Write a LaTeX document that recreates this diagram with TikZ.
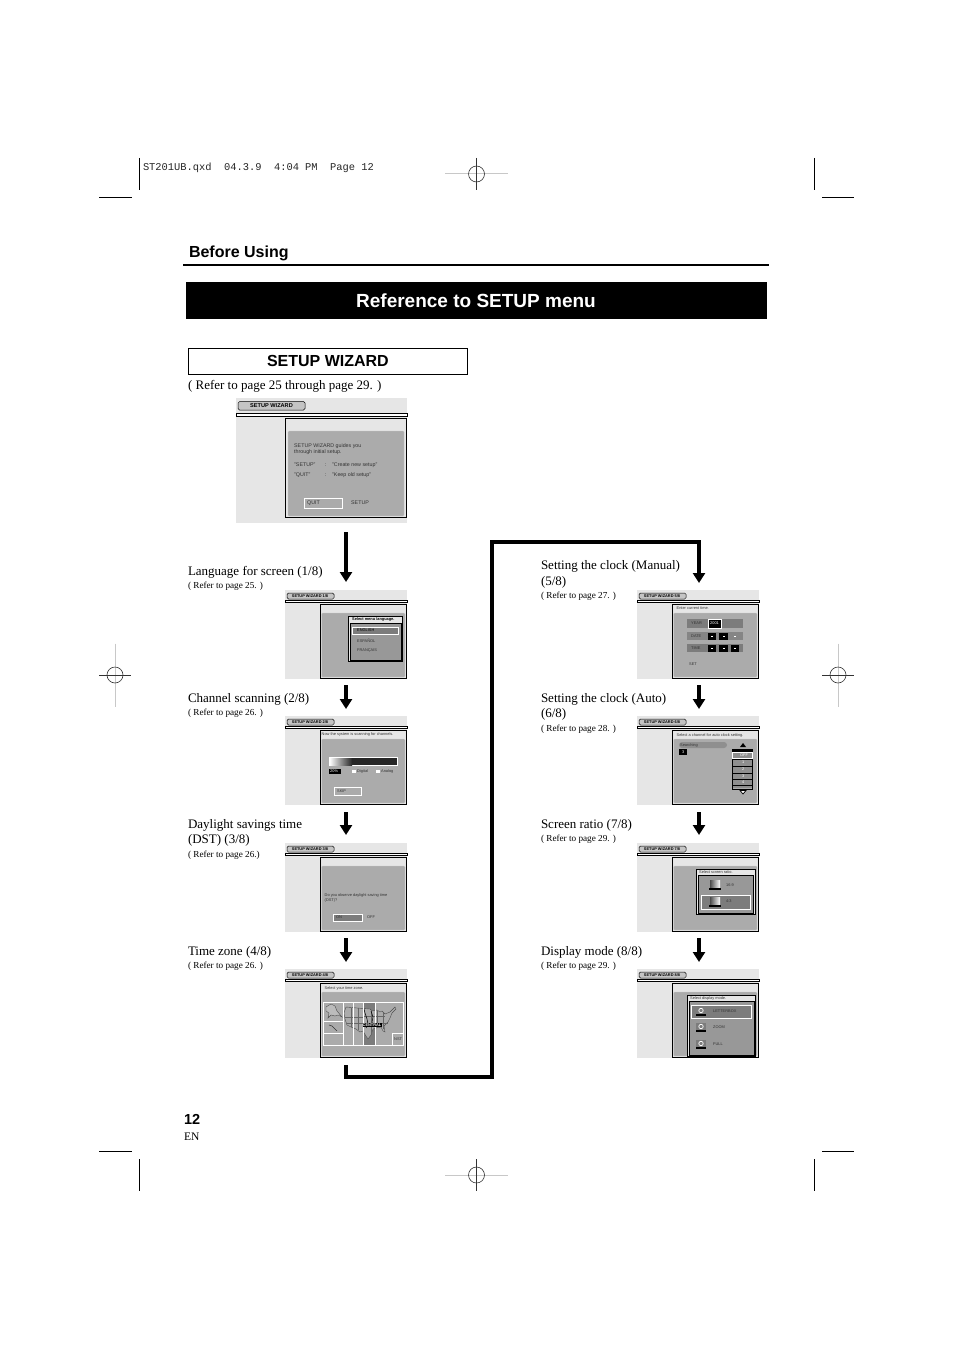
\documentclass[tikz,border=0pt]{standalone}
\usepackage{fontspec}
\setmainfont{Liberation Serif}
\setsansfont{Liberation Sans}
\setmonofont{Liberation Mono}
\usetikzlibrary{arrows.meta}
\definecolor{scrbg}{HTML}{E6E6E6}
\definecolor{panel}{HTML}{ABABAB}
\definecolor{rowdk}{HTML}{7C7C7C}
\definecolor{subdk}{HTML}{989898}
\definecolor{txgray}{HTML}{333333}
\definecolor{regline}{HTML}{C8C8C8}
\newcounter{tn}
\tikzset{
  x=1pt,y=-1pt,
  txt/.style={inner sep=0pt,outer sep=0pt,anchor=base west,text=black},
  lab/.style={txt,font=\fontsize{13}{15}\selectfont},
  ref/.style={txt,font=\fontsize{9.2}{11}\selectfont},
  flow/.style={line width=4pt,-{Triangle[width=12pt,length=10pt]}},
  crop/.style={line width=0.8pt,black},
  frameb/.style={draw=black,line width=0.9pt},
  pan/.style={fill=panel,draw=white!80!black,line width=0.3pt,rounded corners=1pt},
  okbox/.style={draw=white,line width=0.8pt},
  row/.style={fill=rowdk},
  blk/.style={fill=black}
}
% tiny screen text: x, y(centre), text; white-ish or dark
\newcommand{\tl}[4][txgray]{\stepcounter{tn}\node[inner sep=0pt,anchor=west,text=#1,font=\sffamily\fontsize{3.9}{4}\selectfont] (t\arabic{tn}) at (#2,#3) {#4};}
\newcommand{\tlb}[4][txgray]{\stepcounter{tn}\node[inner sep=0pt,anchor=west,text=#1,font=\sffamily\fontsize{5.3}{6}\selectfont] (t\arabic{tn}) at (#2,#3) {#4};}
% small screen frame
\newcommand{\scr}[1]{%
  \fill[scrbg] (0,0) rectangle (122,89);
  \draw[black,line width=0.7pt,fill=white] (0,10.6) rectangle (122,12.6);
  \draw[fill=panel!70!white,draw=black,line width=0.5pt,rounded corners=1.4pt] (2,3) rectangle (49,9);
  \stepcounter{tn}\node[inner sep=0pt,text=black,font=\sffamily\bfseries\fontsize{3.9}{4}\selectfont] (t\arabic{tn}) at (25,6) {#1};
  \draw[frameb,fill=scrbg] (35.5,14.5) rectangle (121,88);
  \draw[pan] (36.5,23) rectangle (120,87);
}
\newcommand{\regmark}[3]{% cx cy: gray axis vertical(#3=v) or horizontal
  \draw[line width=1pt,regline] \ifx#3v(#1,{#2-31.5}) -- (#1,{#2+31.5})\else({#1-31.5},#2) -- ({#1+31.5},#2)\fi;
  \draw[line width=0.6pt,black!80] \ifx#3v({#1-16},#2) -- ({#1+16},#2)\else(#1,{#2-16}) -- (#1,{#2+16})\fi;
  \draw[line width=0.6pt,black!80] (#1,#2) circle[radius=8];
}
\newcommand{\tvicon}[2]{%
  \shade[left color=black!70,right color=white] (#1,#2) rectangle ({#1+10},{#2+8});
  \fill[black] ({#1-1},{#2+8}) rectangle ({#1+11},{#2+10});
}
\newcommand{\discicon}[2]{%
  \fill[rowdk] (#1,#2) rectangle ({#1+10},{#2+7});
  \draw[white,line width=0.7pt] ({#1+5},{#2+3.5}) circle[radius=2.2];
  \fill[black] (#1,{#2+7}) rectangle ({#1+10},{#2+8.5});
}
\begin{document}
\begin{tikzpicture}
\useasboundingbox (0,0) rectangle (954,1351);
\fill[white] (0,0) rectangle (954,1351);

% crop marks
\draw[crop] (139,158) -- (139,190);
\draw[crop] (99,197) -- (132,197);
\draw[crop] (814,158) -- (814,190);
\draw[crop] (822,197) -- (854,197);
\draw[crop] (139,1159) -- (139,1191);
\draw[crop] (99,1151) -- (132,1151);
\draw[crop] (814,1159) -- (814,1191);
\draw[crop] (822,1151) -- (854,1151);
\regmark{476.5}{174}{h}
\regmark{476.5}{1175}{h}
\regmark{115}{675}{v}
\regmark{838}{675}{v}

\node[txt,font=\ttfamily\fontsize{10.4}{12}\selectfont,text=black!85] (slug) at (143,171) {ST201UB.qxd\ \ 04.3.9\ \ 4:04 PM\ \ Page 12};

% headings
\node[txt,font=\sffamily\bfseries\fontsize{16}{18}\selectfont] (before) at (189,257) {Before Using};
\draw[line width=2.6pt] (183,265) -- (769,265);
\fill[black] (186,282) rectangle (767,319);
\node[inner sep=0pt,text=white,font=\sffamily\bfseries\fontsize{19}{22}\selectfont,anchor=base] (title) at (476,307) {Reference to SETUP menu};
\node[draw=black,line width=0.8pt,minimum width=279pt,minimum height=26pt,inner sep=0pt,font=\sffamily\bfseries\fontsize{16}{18}\selectfont,anchor=north west] (wizbox) at (188,348) {SETUP WIZARD};
\node[lab] (refall) at (188,389) {( Refer to page 25 through page 29. )};

% left labels
\node[lab] (l1) at (188,575) {Language for screen (1/8)};
\node[ref] (r1) at (188,588) {( Refer to page 25. )};
\node[lab] (l2) at (188,702) {Channel scanning (2/8)};
\node[ref] (r2) at (188,715) {( Refer to page 26. )};
\node[lab] (l3) at (188,828) {Daylight savings time};
\node[lab] (l3b) at (188,843) {(DST) (3/8)};
\node[ref] (r3) at (188,857) {( Refer to page 26.)};
\node[lab] (l4) at (188,955) {Time zone (4/8)};
\node[ref] (r4) at (188,968) {( Refer to page 26. )};

% right labels
\node[lab] (l5) at (541,569) {Setting the clock (Manual)};
\node[lab] (l5b) at (541,585) {(5/8)};
\node[ref] (r5) at (541,598) {( Refer to page 27. )};
\node[lab] (l6) at (541,702) {Setting the clock (Auto)};
\node[lab] (l6b) at (541,717) {(6/8)};
\node[ref] (r6) at (541,731) {( Refer to page 28. )};
\node[lab] (l7) at (541,828) {Screen ratio (7/8)};
\node[ref] (r7) at (541,841) {( Refer to page 29. )};
\node[lab] (l8) at (541,955) {Display mode (8/8)};
\node[ref] (r8) at (541,968) {( Refer to page 29. )};

% page number
\node[txt,font=\sffamily\bfseries\fontsize{14.5}{16}\selectfont] (pg) at (184,1124) {12};
\node[txt,font=\fontsize{11.5}{13}\selectfont] (en) at (184,1140) {EN};

% --- top screen
\fill[scrbg] (236,398) rectangle (407,523);
\draw[black,line width=0.7pt,fill=white] (236,413) rectangle (407,416);
\draw[fill=panel!70!white,draw=black,line width=0.5pt,rounded corners=1.6pt] (238,401.5) rectangle (305,410);
\node[inner sep=0pt,font=\sffamily\bfseries\fontsize{5.6}{6}\selectfont,text=black] (t0) at (271.5,405.5) {SETUP WIZARD};
\draw[frameb,fill=scrbg] (285.5,418) rectangle (406,517);
\draw[pan] (288,431) rectangle (404,516);
\tlb{294}{446}{SETUP WIZARD guides you}
\tlb{294}{452.5}{through initial setup.}
\tlb{294}{465}{"SETUP"}
\tlb{325}{465}{:}
\tlb{332}{465}{"Create new setup"}
\tlb{294}{475}{"QUIT"}
\tlb{325}{475}{:}
\tlb{332}{475}{"Keep old setup"}
\draw[okbox] (304.5,498.5) rectangle (342.5,508);
\tlb{307}{503}{QUIT}
\tlb{351}{503}{SETUP}

% --- screen 1/8
\begin{scope}[shift={(285,590)}]
\scr{SETUP WIZARD 1/8}
\draw[frameb,fill=scrbg] (63,26) rectangle (117.5,71);
\draw[draw=black,line width=0.6pt,fill=subdk] (65,33.5) rectangle (116,70);
\tl[black]{67}{29.5}{\textbf{Select menu language.}}
\fill[rowdk] (67,37) rectangle (113,44);
\draw[okbox] (67,37) rectangle (113,44);
\tl[black]{72}{40.5}{ENGLISH}
\tl{72}{51}{ESPAÑOL}
\tl{72}{61}{FRANÇAIS}
\end{scope}

% --- screen 2/8
\begin{scope}[shift={(285,716)}]
\scr{SETUP WIZARD 2/8}
\tl{36.5}{18.5}{Now the system is scanning for channels.}
\draw[white,line width=0.8pt,fill=black!85] (44,41.5) rectangle (112,49.5);
\shade[left color=white,right color=black!85] (44.5,42) rectangle (67,49);
\fill[black] (44,53) rectangle (56,57.5);
\tl[white]{45}{55.2}{20\%}
\fill[white] (67,54) rectangle (71,57);
\tl{72}{55.5}{Digital}
\fill[white] (91,54) rectangle (94.5,57);
\tl{96}{55.5}{Analog}
\draw[okbox] (49,71) rectangle (76,79);
\tl{52}{75}{SKIP}
\end{scope}

% --- screen 3/8
\begin{scope}[shift={(285,843)}]
\scr{SETUP WIZARD 3/8}
\tl{39.5}{52}{Do you observe daylight saving time}
\tl{39.5}{57.5}{(DST)?}
\fill[rowdk] (48.5,71) rectangle (77,78);
\draw[okbox] (48.5,71) rectangle (77,78);
\tl{51}{74.5}{ON}
\tl{82}{74.5}{OFF}
\end{scope}

% --- screen 4/8
\begin{scope}[shift={(285,969)}]
\scr{SETUP WIZARD 4/8}
\tl{39.5}{19}{Select your time zone.}
\fill[rowdk] (78,33) rectangle (90,76);
\draw[black!70,line width=0.4pt,fill=panel] (61,38)--(72,39)--(85,40)--(87,42)--(92,41)--(95,43)--(97,42)--(100,45)--(105,43)--(110,38)--(111,40)--(107,44)--(105,49)--(103,53)--(99,57)--(100,63)--(98,62)--(96,58)--(91,59)--(88,60)--(86,66)--(83,70)--(81,67)--(78,62)--(75,63)--(71,60)--(66,58)--(62,56)--(60,50)--(59,44)--cycle;
\draw[black!60,line width=0.25pt] (66,38.5)--(66,58) (73,39)--(73,61) (86,41)--(86,66) (78,47)--(100,47) (60,48)--(78,48) (62,54)--(103,54) (92,42)--(92,59) (98,44)--(98,60);
\draw[black,line width=0.5pt] (79,40)--(80,44)--(82,50)--(83,55)--(81,59) (86,42)--(88,48)--(87,53)--(89,58);
\draw[black!70,line width=0.4pt,fill=panel!80!white] (41,38)--(46,35)--(50,37)--(52,42)--(57,48)--(53,46)--(50,47)--(46,46)--(43,49)--(44,44)--(41,42)--cycle;
\draw[black!80,line width=0.6pt] (44,56)--(47,57)--(50,60)--(52,62);
\draw[white,line width=0.6pt] (38,33) rectangle (118,76);
\draw[white,line width=0.6pt] (38,52)--(58,52) (38,64)--(58,64) (58,33)--(58,76) (68,33)--(68,76) (78,33)--(78,76) (90,33)--(90,76) (107,64)--(118,64) (107,64)--(107,76);
\fill[black] (77.5,53.5) rectangle (97,58);
\node[inner sep=0pt,text=white,font=\sffamily\bfseries\fontsize{3.9}{4}\selectfont] (tz) at (87,55.8) {CENTRAL};
\tl{109}{70}{NST}
\end{scope}

% --- screen 5/8
\begin{scope}[shift={(637,590)}]
\scr{SETUP WIZARD 5/8}
\tl{39.5}{18.5}{Enter current time.}
\fill[rowdk] (50,29) rectangle (106,38);
\fill[rowdk!80!panel] (50,42) rectangle (106,50);
\fill[rowdk] (50,54) rectangle (106,62);
\tl{54}{33.5}{YEAR}
\tl{54}{46}{DATE}
\tl{54}{58}{TIME}
\fill[black] (71,29) rectangle (84,38);
\draw[white,line width=0.8pt] (71,29) rectangle (84,38);
\tl[white]{73}{33.5}{2001}
\fill[black] (71,42.5) rectangle (79,49.5);
\fill[black] (82,42.5) rectangle (91,49.5);
\foreach \a/\b in {71/79,82/91,94/102}{\fill[black] (\a,54.5) rectangle (\b,61.5);}
\foreach \a in {75,86.5,98}{\fill[white] (\a-1,57.7) rectangle (\a+1,58.3);}
\foreach \a in {75,86.5,98}{\fill[white] (\a-1,45.7) rectangle (\a+1,46.3);}
\tl{52}{74}{SET}
\end{scope}

% --- screen 6/8
\begin{scope}[shift={(637,716)}]
\scr{SETUP WIZARD 6/8}
\tl{39.5}{19}{Select a channel for auto clock setting.}
\fill[rowdk!60!panel,rounded corners=3pt] (42,26) rectangle (90,32);
\tl{43}{29}{Searching}
\fill[black] (42,33) rectangle (50,39);
\tl[white]{45}{36}{3}
\fill[black] (103,31)--(109,31)--(106,27)--cycle;
\fill[black] (95,33) rectangle (116,36);
\fill[rowdk!60!panel] (95,36) rectangle (116,72);
\draw[black,line width=0.6pt] (95.5,36)--(95.5,73) (115.5,36)--(115.5,73);
\foreach \y in {43,50,57,63.5,69,73}{\draw[black,line width=0.6pt] (95,\y)--(116,\y);}
\draw[okbox] (95.5,36.5) rectangle (115.5,42.5);
\tl[white]{103}{39.5}{OFF}
\tl[white]{105}{46.5}{1}
\tl[white]{105}{53.5}{2}
\tl[white]{105}{60}{3}
\tl[white]{105}{66}{4}
\draw[black,line width=0.7pt,fill=white] (103,74.5)--(109,74.5)--(106,78)--cycle;
\end{scope}

% --- screen 7/8
\begin{scope}[shift={(637,843)}]
\scr{SETUP WIZARD 7/8}
\draw[frameb,fill=scrbg] (59,26) rectangle (118,71);
\draw[black,line width=0.6pt,fill=subdk] (61,32.5) rectangle (116.5,70);
\tl{62}{29}{Select screen ratio.}
\tvicon{73}{37}
\tl{89}{42}{16:9}
\fill[rowdk] (64,52) rectangle (113,66);
\draw[okbox] (64,52) rectangle (113,66);
\tvicon{73}{54}
\tl{89}{58}{4:3}
\end{scope}

% --- screen 8/8
\begin{scope}[shift={(637,969)}]
\scr{SETUP WIZARD 8/8}
\draw[frameb,fill=scrbg] (50,26) rectangle (118.5,87);
\draw[black,line width=0.5pt,fill=subdk] (52,32.5) rectangle (117,86);
\tl{53}{29}{Select display mode.}
\fill[rowdk] (54,36) rectangle (114,49);
\draw[okbox] (54,36) rectangle (114,49);
\discicon{59}{38}
\tl{76}{42.5}{LETTERBOX}
\discicon{59}{54}
\tl{76}{58}{ZOOM}
\discicon{59}{71}
\tl{76}{75}{FULL}
\end{scope}

% --- connectors
\coordinate (a0) at (346,532); \coordinate (a0e) at (346,582);
\coordinate (a1) at (346,685); \coordinate (a1e) at (346,709);
\coordinate (a2) at (346,812); \coordinate (a2e) at (346,835);
\coordinate (a3) at (346,938); \coordinate (a3e) at (346,962);
\coordinate (b1) at (699,685); \coordinate (b1e) at (699,709);
\coordinate (b2) at (699,812); \coordinate (b2e) at (699,835);
\coordinate (b3) at (699,938); \coordinate (b3e) at (699,962);
\draw[flow] (a0) -- (a0e);
\draw[flow] (a1) -- (a1e);
\draw[flow] (a2) -- (a2e);
\draw[flow] (a3) -- (a3e);
\draw[flow] (b1) -- (b1e);
\draw[flow] (b2) -- (b2e);
\draw[flow] (b3) -- (b3e);
\coordinate (c0) at (346,1065);
\coordinate (c1) at (346,1077);
\coordinate (c2) at (492,1077);
\coordinate (c3) at (492,541.5);
\coordinate (c4) at (699,541.5);
\coordinate (c5) at (699,583);
\draw[flow,line join=miter] (c0) -- (c1) -- (c2) -- (c3) -- (c4) -- (c5);
\end{tikzpicture}
\end{document}
